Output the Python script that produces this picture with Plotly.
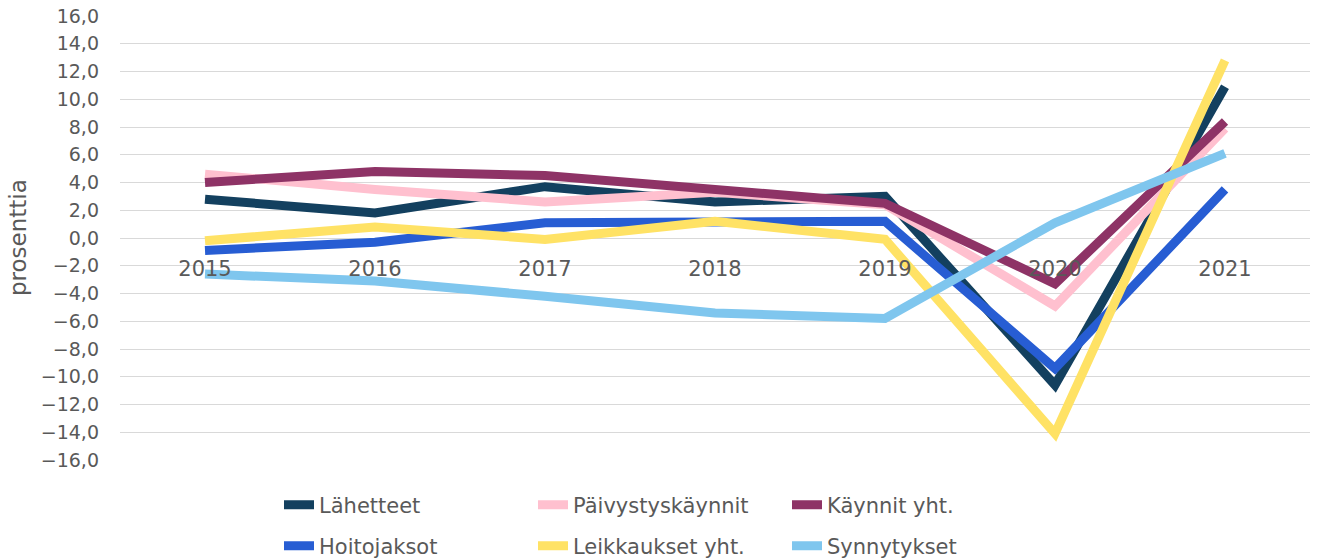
import plotly.graph_objects as go

years = ["2015", "2016", "2017", "2018", "2019", "2020", "2021"]

series_names = ["Lähetteet", "Päivystyskäynnit", "Käynnit yht.",
                "Hoitojaksot", "Leikkaukset yht.", "Synnytykset"]
lahetteet = [2.8, 1.8, 3.7, 2.6, 3.0, -10.6, 10.9]
paivystys = [4.6, 3.5, 2.6, 3.3, 2.4, -4.9, 7.9]
kaynnit = [4.0, 4.8, 4.5, 3.5, 2.5, -3.3, 8.4]
hoitojaksot = [-0.9, -0.3, 1.1, 1.1, 1.2, -9.4, 3.5]
leikkaukset = [-0.2, 0.8, -0.1, 1.2, -0.1, -14.1, 12.8]
synnytykset = [-2.6, -3.1, -4.2, -5.4, -5.8, 1.1, 6.1]

colors = ["#13405f", "#ffc0cf", "#8e3366", "#275dd3", "#ffe265", "#7fc6ee"]
y_ticks = list(range(-16, 17, 2))
y_tick_text = [f"{v},0" if v >= 0 else f"\u2212{abs(v)},0" for v in y_ticks]

all_series = [lahetteet, paivystys, kaynnit, hoitojaksot, leikkaukset, synnytykset]

fig = go.Figure()
for i, (name, vals, col) in enumerate(zip(series_names, all_series, colors)):
    fig.add_trace(go.Scatter(
        x=years, y=vals, name=name, mode="lines",
        line=dict(color=col, width=9),
        legend="legend" if i < 3 else "legend2",
    ))

font_family = "DejaVu Sans, sans-serif"
text_color = "#595959"

legend_common = dict(
    orientation="h", xanchor="left", yanchor="middle", yref="container",
    entrywidth=209, entrywidthmode="pixels",
    font=dict(size=21, color=text_color, family=font_family),
    itemwidth=30, tracegroupgap=0, bgcolor="rgba(0,0,0,0)",
)

fig.update_layout(
    width=1317, height=560,
    margin=dict(l=120, r=7, t=16, b=100, autoexpand=False),
    plot_bgcolor="white", paper_bgcolor="white",
    font=dict(family=font_family, size=18, color=text_color),
    xaxis=dict(
        type="category", range=[-0.5, 6.5],
        showgrid=False, showline=False, zeroline=False,
        anchor="free", position=0.5,
        ticks="", ticklabelstandoff=16,
        tickfont=dict(size=21, color=text_color),
        automargin=False,
    ),
    yaxis=dict(
        range=[-16, 16], tickvals=y_ticks, ticktext=y_tick_text,
        showgrid=True, gridcolor="#d9d9d9", gridwidth=1,
        zeroline=False, showline=False, ticks="",
        ticklabelstandoff=20, automargin=False,
        tickfont=dict(size=19, color=text_color),
    ),
    legend=dict(x=(279 - 120) / 1190, y=1 - 505 / 560, **legend_common),
    legend2=dict(x=(279 - 120) / 1190, y=1 - 546 / 560, **legend_common),
    annotations=[dict(
        text="prosenttia", xref="paper", yref="paper",
        x=-(120 - 18) / 1190, y=0.5, xanchor="center", yanchor="middle",
        textangle=-90, showarrow=False,
        font=dict(size=23, color=text_color, family=font_family),
    )],
)

fig.write_html("out.html", config={"displayModeBar": False},
               post_script="document.body.style.margin='0';")
